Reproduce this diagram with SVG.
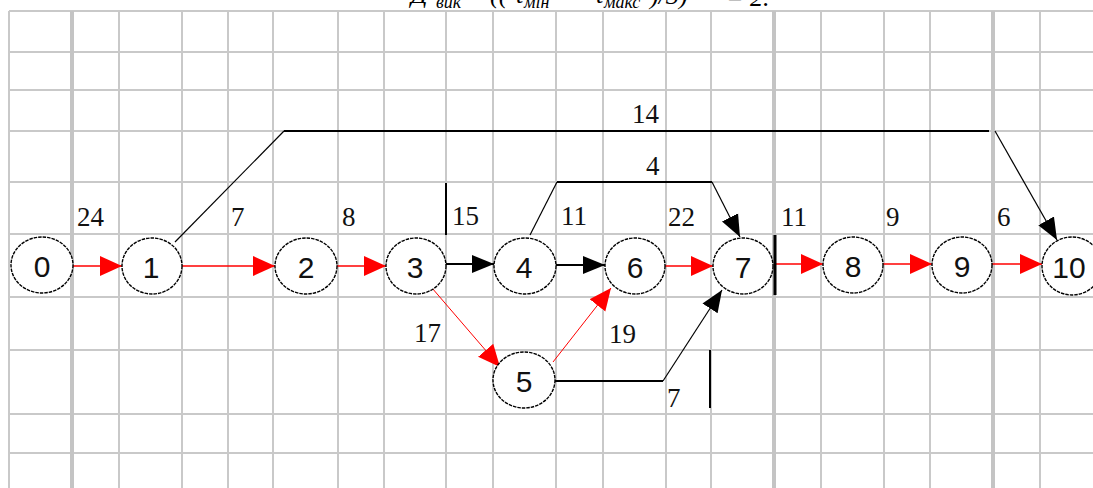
<svg xmlns="http://www.w3.org/2000/svg" width="1093" height="488" viewBox="0 0 1093 488">
<style>
.g{stroke:#c9c9c9;stroke-width:2;fill:none}
.gt{stroke:#c4c4c4;stroke-width:4;fill:none}
.nd{fill:#fff;stroke:#000;stroke-width:1.4;stroke-dasharray:3.5 1}
.nt{font-family:"Liberation Sans",Arial,sans-serif;font-size:30px;fill:#111;text-anchor:middle}
.lb{font-family:"Liberation Serif","Times New Roman",serif;font-size:27px;fill:#111}
.f{font-family:"Liberation Serif","Times New Roman",serif;font-style:italic;fill:#000}
.r{stroke:#ff0000;stroke-width:1.6;fill:none}
.rt{stroke:#ff0000;stroke-width:1;fill:none}
.k{stroke:#000;stroke-width:2;fill:none}
.kt{stroke:#000;stroke-width:1.2;fill:none}
</style>
<defs>
<marker id="ar" markerUnits="userSpaceOnUse" markerWidth="24" markerHeight="22" refX="22" refY="10" orient="auto"><path d="M0,0 L22,10 L0,20 z" fill="#ff0000"/></marker>
<marker id="ak" markerUnits="userSpaceOnUse" markerWidth="24" markerHeight="22" refX="22" refY="10" orient="auto"><path d="M0,1 L22,10 L0,19 z" fill="#000"/></marker>
</defs>
<rect width="1093" height="488" fill="#fff"/>
<text class="f"><tspan x="411" y="3" font-size="26">Д</tspan><tspan x="436" y="8" font-size="18">вик</tspan><tspan x="466" y="3" font-size="26">= ((</tspan><tspan x="516" y="3" font-size="26">t</tspan><tspan x="524" y="8" font-size="18">мін</tspan><tspan x="574" y="3" font-size="26">−</tspan><tspan x="596" y="3" font-size="26">t</tspan><tspan x="604" y="8" font-size="18">макс</tspan><tspan x="650" y="4" font-size="26">)/3)</tspan><tspan x="726" y="6" font-size="26">= 2.</tspan></text>
<g id="grid">
<path class="g" d="M9,11 V488 M119,11 V488 M182,11 V488 M228,11 V488 M273,11 V488 M338,11 V488 M384,11 V488 M446,11 V488 M493,11 V488 M556,11 V488 M603,11 V488 M666,11 V488 M711,11 V488 M821,11 V488 M884,11 V488 M930,11 V488 M1040,11 V488"/>
<path class="g" d="M9,11 H1093 M9,52 H1093 M9,90 H1093 M9,131 H1093 M9,182 H1093 M9,234 H1093 M9,297 H1093 M9,350 H1093 M9,414 H1093 M9,453 H1093"/>
<path class="gt" d="M72,11 V488 M774,11 V488 M993,11 V488"/>
</g>
<g id="connectors">
<path class="r" d="M73,266 L122,266" marker-end="url(#ar)"/>
<path class="r" d="M182,266 L275,266" marker-end="url(#ar)"/>
<path class="r" d="M337,266 L386,266" marker-end="url(#ar)"/>
<path class="k" d="M446,264 L494,264" marker-end="url(#ak)"/>
<path class="k" d="M556,265 L605,265" marker-end="url(#ak)"/>
<path class="r" d="M665,266 L713,266" marker-end="url(#ar)"/>
<path class="r" d="M775,264 L823,264" marker-end="url(#ar)"/>
<path class="r" d="M883,264 L932,264" marker-end="url(#ar)"/>
<path class="r" d="M992,264 L1042,264" marker-end="url(#ar)"/>
<path class="rt" d="M432,288 L500,367" marker-end="url(#ar)"/>
<path class="rt" d="M553,362 L611,288" marker-end="url(#ar)"/>
<path class="k" d="M555,381 L663,381"/>
<path class="kt" d="M663,381 L722,290" marker-end="url(#ak)"/>
<path class="kt" d="M175,242 L284,131"/>
<path class="k" d="M284,131 L989,131"/>
<path class="kt" d="M995,131 L1057,240" marker-end="url(#ak)"/>
<path class="kt" d="M530,235 L557,182"/>
<path class="k" d="M557,182 L712,182"/>
<path class="kt" d="M712,182 L740,237" marker-end="url(#ak)"/>
<path class="k" d="M446,183 L446,235"/>
<path class="k" d="M710,350 L710,408"/>
<path stroke="#000" stroke-width="3" d="M775,235 L775,295"/>
</g>
<g id="node-0"><ellipse class="nd" cx="42" cy="265" rx="31" ry="28"/><text class="nt" x="42" y="277">0</text></g>
<g id="node-1"><ellipse class="nd" cx="152" cy="266" rx="30" ry="28"/><text class="nt" x="151" y="278">1</text></g>
<g id="node-2"><ellipse class="nd" cx="306" cy="266" rx="31" ry="28"/><text class="nt" x="306" y="278">2</text></g>
<g id="node-3"><ellipse class="nd" cx="416" cy="266" rx="30" ry="28"/><text class="nt" x="415" y="278">3</text></g>
<g id="node-4"><ellipse class="nd" cx="525" cy="266" rx="31" ry="28"/><text class="nt" x="524" y="278">4</text></g>
<g id="node-5"><ellipse class="nd" cx="524" cy="380" rx="31" ry="28"/><text class="nt" x="524" y="392">5</text></g>
<g id="node-6"><ellipse class="nd" cx="635" cy="266" rx="30" ry="28"/><text class="nt" x="635" y="278">6</text></g>
<g id="node-7"><ellipse class="nd" cx="743" cy="266" rx="30" ry="28"/><text class="nt" x="743" y="278">7</text></g>
<g id="node-8"><ellipse class="nd" cx="853" cy="265" rx="30" ry="28"/><text class="nt" x="853" y="277">8</text></g>
<g id="node-9"><ellipse class="nd" cx="962" cy="265" rx="30" ry="28"/><text class="nt" x="962" y="277">9</text></g>
<g id="node-10"><ellipse class="nd" cx="1072" cy="266" rx="30" ry="29"/><text class="nt" x="1069" y="278">10</text></g>
<g id="labels">
<text class="lb" x="77" y="226">24</text>
<text class="lb" x="231" y="226">7</text>
<text class="lb" x="342" y="226">8</text>
<text class="lb" x="452" y="225">15</text>
<text class="lb" x="561" y="225">11</text>
<text class="lb" x="668" y="226">22</text>
<text class="lb" x="781" y="226">11</text>
<text class="lb" x="886" y="226">9</text>
<text class="lb" x="997" y="226">6</text>
<text class="lb" x="632" y="123">14</text>
<text class="lb" x="646" y="175">4</text>
<text class="lb" x="414" y="342">17</text>
<text class="lb" x="609" y="343">19</text>
<text class="lb" x="667" y="407">7</text>
</g>
</svg>
